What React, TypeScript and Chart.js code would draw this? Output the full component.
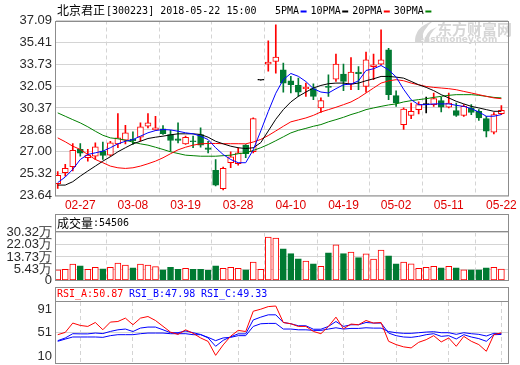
import React, { useEffect, useRef } from "react";
import { Chart, registerables } from "chart.js";
Chart.register(...registerables);

const DATES = ["02-22","02-23","02-26","02-27","02-28","03-01","03-02","03-05","03-06","03-07","03-08","03-09","03-12","03-13","03-14","03-15","03-16","03-19","03-20","03-21","03-22","03-23","03-26","03-27","03-28","03-29","03-30","04-02","04-03","04-04","04-09","04-10","04-11","04-12","04-13","04-16","04-17","04-18","04-19","04-20","04-23","04-24","04-25","04-26","04-27","05-02","05-03","05-04","05-07","05-08","05-09","05-10","05-11","05-14","05-15","05-16","05-17","05-18","05-21","05-22"];

const OPEN = [24.55,25.39,25.85,27.18,26.54,26.66,27.05,26.74,27.61,27.89,27.98,28.12,28.96,28.69,28.76,28.33,28.00,27.61,27.81,28.33,27.31,25.57,24.17,26.16,26.08,27.51,27.00,32.50,33.74,33.94,33.30,32.46,32.10,31.85,31.85,30.37,32.02,32.59,32.97,32.20,33.13,32.02,33.55,33.74,34.83,31.31,29.09,29.80,30.24,30.62,30.62,30.93,30.42,30.16,29.80,30.37,30.11,29.55,28.50,29.93];
const HIGH = [25.47,26.03,27.64,27.64,27.18,27.69,27.74,27.81,29.93,29.04,28.53,29.22,29.93,29.73,29.01,28.65,29.22,28.20,28.20,28.84,27.81,26.41,25.82,27.00,27.31,27.56,29.60,32.50,35.52,36.75,33.82,32.79,32.66,32.28,32.23,31.14,32.92,34.50,33.74,34.24,33.55,34.66,34.50,36.37,34.96,31.69,30.37,30.75,30.83,31.20,31.52,31.18,31.52,30.75,30.62,30.62,30.24,29.73,30.01,30.55];
const LOW = [24.19,25.13,25.52,26.66,26.28,26.41,26.41,26.66,27.31,27.61,27.56,27.81,28.84,28.65,28.33,27.05,27.69,27.56,27.31,27.35,26.91,24.37,24.06,25.77,25.97,26.54,26.92,32.50,33.20,33.05,31.59,31.52,31.26,31.26,31.01,30.03,31.26,32.41,31.69,31.77,31.77,31.59,32.54,33.68,31.01,30.49,28.71,29.55,29.91,29.98,30.49,30.06,30.37,29.72,29.72,29.86,29.42,28.15,28.37,29.86];
const CLOSE = [25.19,25.72,27.12,26.89,26.74,27.38,26.72,27.69,28.07,28.46,27.85,28.92,29.22,28.84,28.40,27.87,27.87,28.12,27.77,27.51,27.18,24.44,25.72,26.62,26.92,26.86,29.55,32.50,33.90,34.27,32.28,32.15,31.59,31.95,31.26,30.93,31.95,33.74,32.41,33.13,33.00,34.07,33.68,34.07,31.39,30.75,30.29,30.11,30.62,30.62,31.08,30.42,30.75,29.80,30.49,30.03,29.60,28.58,29.86,30.19];

// volume in 万手
const VOLUME = [4.96,5.43,8.83,7.68,5.43,6.79,5.64,6.79,9.51,8.15,6.32,8.83,8.15,7.20,4.96,6.79,5.43,6.11,5.43,5.43,4.75,7.68,6.11,6.79,6.11,4.96,10.19,5.43,27.19,26.50,19.24,16.04,12.44,10.87,9.04,7.47,16.50,21.96,16.04,16.99,13.32,15.84,12.23,18.35,14.48,9.04,10.19,9.04,6.11,6.79,7.47,6.32,7.47,6.32,4.96,4.96,4.96,6.32,6.79,5.4506];

const MA5 = [24.63,25.06,25.65,26.41,26.79,26.92,27.05,27.31,27.61,27.81,27.94,28.20,28.46,28.63,28.71,28.68,28.58,28.46,28.38,28.20,27.94,27.31,26.79,26.41,26.16,26.16,27.15,28.60,30.10,31.50,32.55,33.02,32.80,32.40,31.85,31.59,31.52,31.85,32.15,32.20,32.45,33.25,33.38,33.63,33.30,32.75,31.80,31.00,30.62,30.62,30.68,30.68,30.68,30.57,30.49,30.31,30.06,29.73,29.73,29.86];
const MA10 = [24.44,24.44,24.70,25.13,25.52,25.90,26.28,26.62,27.00,27.31,27.61,27.81,28.02,28.12,28.20,28.30,28.38,28.38,28.38,28.33,28.12,27.81,27.61,27.43,27.31,27.25,27.31,27.70,28.60,29.50,30.24,30.83,31.26,31.59,31.90,32.10,32.23,32.28,32.28,32.20,32.28,32.46,32.61,32.79,32.79,32.74,32.66,32.41,32.15,31.95,31.70,31.39,31.14,30.88,30.68,30.49,30.37,30.24,30.11,30.11];
const MA20 = [28.07,27.77,27.43,27.18,26.79,26.41,26.16,25.90,25.77,25.72,25.77,25.90,26.08,26.28,26.54,26.85,27.15,27.35,27.51,27.61,27.64,27.64,27.62,27.62,27.62,27.61,27.75,27.95,28.25,28.60,28.96,29.30,29.45,29.60,29.80,30.06,30.24,30.42,30.62,30.83,31.14,31.52,31.90,32.28,32.45,32.54,32.46,32.28,32.15,32.02,31.95,31.90,31.85,31.77,31.64,31.52,31.39,31.26,31.14,31.08];
const MA30 = [29.99,29.73,29.47,29.22,28.92,28.58,28.27,28.07,28.00,27.89,27.74,27.61,27.51,27.35,27.18,27.00,26.87,26.74,26.70,26.66,26.66,26.66,26.70,26.74,26.85,26.92,27.10,27.31,27.56,27.85,28.15,28.45,28.65,28.80,28.96,29.09,29.30,29.47,29.65,29.86,30.03,30.24,30.37,30.49,30.60,30.68,30.83,30.93,31.01,31.08,31.18,31.26,31.34,31.39,31.39,31.39,31.34,31.26,31.18,31.14];

const RSI_A = [47.6,51.5,67.6,63.5,61.8,68.6,56.1,69.3,70.3,76.1,64.7,76.1,78.9,72.0,62.0,52.0,48.0,56.0,50.0,42.0,36.0,12.0,30.0,45.0,55.0,53.0,88.0,91.5,96.0,97.0,68.6,66.4,61.8,61.8,53.2,49.3,61.8,77.8,57.8,65.9,64.7,72.0,67.6,68.6,36.2,30.5,26.6,24.8,34.4,39.0,45.9,35.1,41.9,27.6,44.7,36.2,30.5,19.0,47.6,50.87];
const RSI_B = [37.3,41.9,49.3,49.0,49.0,50.4,49.5,53.2,56.0,57.3,53.0,59.0,60.7,60.7,56.0,51.0,51.0,54.0,51.0,48.0,42.0,27.6,37.8,44.0,49.0,49.0,73.0,77.8,81.8,81.8,68.6,66.4,63.0,63.0,57.0,57.0,61.8,70.3,61.8,64.7,64.7,68.6,67.6,67.6,50.4,45.9,43.6,43.0,44.7,47.6,49.3,44.7,45.9,40.2,47.6,43.6,40.8,36.2,47.6,47.98];
const RSI_C = [36.2,40.0,43.6,43.6,43.6,43.6,43.0,45.9,47.6,47.6,47.6,49.3,50.4,50.4,50.4,49.3,49.3,49.3,47.6,47.6,43.0,37.3,42.0,43.0,45.9,45.9,61.8,66.4,67.0,67.0,57.3,57.3,56.0,56.0,55.0,55.0,57.3,59.5,57.3,58.4,58.4,59.5,58.9,58.9,53.0,51.0,49.9,49.9,51.0,52.1,52.7,51.0,51.0,48.2,51.0,49.3,48.2,45.3,49.9,49.33];

const PRICE_TICKS = [23.64, 25.32, 27.0, 28.68, 30.37, 32.05, 33.73, 35.41, 37.09];
const VOL_TICKS = [5.43, 13.73, 22.03, 30.32];
const VOL_MIN = -1.88;
const RSI_TICKS = [10, 51, 91];
const DATE_TICK_IDX = [3, 10, 17, 24, 31, 38, 45, 52, 59];

const UP = "#ff0000";
const DOWN = "#007a32";
const FLAT = "#000000";
const GRID = "#d4d4d4";
const FRAME = "#8c8c8c";
const TICK_FONT = { family: "'Liberation Sans Narrow', 'Liberation Sans', sans-serif", size: 13 };
const MONO = "'DejaVu Sans Mono', monospace";
const CJK = "'Noto Sans CJK SC', sans-serif";

const X_MIN = -0.23;
const X_MAX = 59.88;
const W = 520;
const H = 365;

const idx = (arr: number[]) => arr.map((v, i) => ({ x: i, y: v }));
const candleColor = (i: number) => (CLOSE[i] > OPEN[i] ? UP : CLOSE[i] < OPEN[i] ? DOWN : FLAT);

const zeroPad = (s: any) => {
  s.paddingTop = 0;
  s.paddingBottom = 0;
  s.paddingLeft = 0;
  s.paddingRight = 0;
};

function xScale(showLabels: boolean, height: number) {
  return {
    type: "linear",
    min: X_MIN,
    max: X_MAX,
    offset: false,
    afterBuildTicks: (s: any) => {
      s.ticks = DATE_TICK_IDX.map((v) => ({ value: v }));
    },
    afterFit: (s: any) => {
      s.height = height;
      zeroPad(s);
    },
    ticks: {
      display: showLabels,
      autoSkip: false,
      maxRotation: 0,
      padding: 3,
      color: "#e00000",
      font: { family: "'Liberation Sans', sans-serif", size: 12 },
      callback: (v: any) => DATES[v] ?? "",
    },
    grid: { color: GRID, drawTicks: false, lineWidth: 1 },
    border: { display: false, dash: [4, 3] },
  };
}

function yBase(min: number, max: number, ticks: number[], fmt: (v: number) => string, gridFor: (v: number) => boolean) {
  return {
    type: "linear",
    min,
    max,
    afterBuildTicks: (s: any) => {
      s.ticks = ticks.map((v) => ({ value: v }));
    },
    afterFit: (s: any) => {
      s.width = 56;
      zeroPad(s);
    },
    ticks: {
      autoSkip: false,
      padding: 4,
      color: "#2a2a2a",
      font: TICK_FONT,
      callback: (v: any) => fmt(Number(v)),
    },
    grid: {
      drawTicks: false,
      lineWidth: 1,
      color: (c: any) => (c.tick && gridFor(c.tick.value) ? GRID : "rgba(0,0,0,0)"),
    },
    border: { display: false },
  };
}

function drawMixed(ctx: CanvasRenderingContext2D, x: number, y: number, parts: { t: string; font: string; color: string }[]) {
  let cx = x;
  for (const p of parts) {
    ctx.font = p.font;
    ctx.fillStyle = p.color;
    ctx.fillText(p.t, cx, y);
    cx += ctx.measureText(p.t).width;
  }
  return cx;
}

export default function App() {
  const mainRef = useRef<HTMLCanvasElement>(null);
  const volRef = useRef<HTMLCanvasElement>(null);
  const rsiRef = useRef<HTMLCanvasElement>(null);

  useEffect(() => {
    document.body.style.margin = "0";
    const charts: Chart[] = [];

    const mainPlugin = {
      id: "mainDeco",
      beforeDatasetsDraw(chart: any) {
        const ctx = chart.ctx;
        ctx.save();
        ctx.fillStyle = "#d6d6d6";
        ctx.beginPath();
        ctx.moveTo(415, 43);
        ctx.quadraticCurveTo(414, 27, 433, 21);
        ctx.quadraticCurveTo(422, 29, 421, 43);
        ctx.closePath();
        ctx.fill();
        ctx.beginPath();
        ctx.moveTo(424, 43);
        ctx.quadraticCurveTo(425, 31, 437, 27);
        ctx.quadraticCurveTo(429, 33, 428, 43);
        ctx.closePath();
        ctx.fill();
        ctx.textBaseline = "middle";
        ctx.font = `bold 15px ${CJK}`;
        ctx.fillText("东方财富网", 437, 29);
        ctx.font = "bold 9px 'DejaVu Sans', sans-serif";
        ctx.fillText("eastmoney.com", 418, 40);
        ctx.restore();
      },
      afterDraw(chart: any) {
        const ctx = chart.ctx;
        const a = chart.chartArea;
        ctx.save();
        ctx.strokeStyle = FRAME;
        ctx.lineWidth = 1;
        ctx.strokeRect(Math.round(a.left) - 0.5, Math.round(a.top) + 0.5, Math.round(a.right - a.left) + 1, Math.round(a.bottom - a.top) - 0.5);
        ctx.textBaseline = "middle";
        const x1 = drawMixed(ctx, 57, 10.5, [{ t: "北京君正", font: `12px ${CJK}`, color: "#000" }]);
        drawMixed(ctx, x1 + 1, 11, [{ t: "[300223] 2018-05-22 15:00", font: `10px ${MONO}`, color: "#000" }]);
        const legend = [
          { t: "5PMA", c: "#0000ff" },
          { t: "10PMA", c: "#000000" },
          { t: "20PMA", c: "#ff0000" },
          { t: "30PMA", c: "#008000" },
        ];
        let lx = 275;
        for (const l of legend) {
          ctx.font = `10px ${MONO}`;
          ctx.fillStyle = "#000";
          ctx.fillText(l.t, lx, 11);
          lx += ctx.measureText(l.t).width + 1.5;
          ctx.fillStyle = l.c;
          ctx.fillRect(lx, 10.5, 6, 2);
          lx += 10;
        }
        ctx.restore();
      },
    };

    charts.push(
      new Chart(mainRef.current!, {
        type: "bar",
        data: {
          datasets: [
            { type: "line", data: idx(MA5), borderColor: "#0000ff", borderWidth: 1, pointRadius: 0, order: 0 },
            { type: "line", data: idx(MA10), borderColor: "#000000", borderWidth: 1, pointRadius: 0, order: 0 },
            { type: "line", data: idx(MA20), borderColor: "#ff0000", borderWidth: 1, pointRadius: 0, order: 0 },
            { type: "line", data: idx(MA30), borderColor: "#008000", borderWidth: 1, pointRadius: 0, order: 0 },
            {
              type: "bar",
              data: OPEN.map((o, i) => ({ x: i, y: [o, CLOSE[i]] })),
              backgroundColor: OPEN.map((_, i) => (CLOSE[i] > OPEN[i] ? "#ffffff" : candleColor(i))),
              borderColor: OPEN.map((_, i) => candleColor(i)),
              borderWidth: 1,
              borderSkipped: false,
              barThickness: 6,
              minBarLength: 1,
              grouped: false,
              order: 1,
            },
            {
              type: "bar",
              data: LOW.map((l, i) => ({ x: i, y: [l, HIGH[i]] })),
              backgroundColor: OPEN.map((_, i) => candleColor(i)),
              borderWidth: 0,
              barThickness: 1,
              grouped: false,
              order: 2,
            },
          ] as any,
        },
        options: {
          responsive: false,
          animation: false,
          events: [],
          layout: { autoPadding: false, padding: { left: 0, right: 12, top: 20.5, bottom: H - 195.5 - 18 } },
          plugins: { legend: { display: false }, tooltip: { enabled: false } },
          scales: {
            x: xScale(true, 18) as any,
            y: yBase(23.64, 37.09, PRICE_TICKS, (v) => v.toFixed(2), () => true) as any,
          },
        },
        plugins: [mainPlugin],
      })
    );

    const volPlugin = {
      id: "volDeco",
      afterDraw(chart: any) {
        const ctx = chart.ctx;
        const a = chart.chartArea;
        ctx.save();
        ctx.strokeStyle = FRAME;
        ctx.lineWidth = 1;
        const L = Math.round(a.left) - 0.5;
        const R = Math.round(a.right) + 0.5;
        ctx.strokeRect(L, 214.5, R - L, 280.5 - 214.5);
        ctx.beginPath();
        ctx.moveTo(L, 231.5);
        ctx.lineTo(R, 231.5);
        ctx.stroke();
        ctx.textBaseline = "middle";
        const x1 = drawMixed(ctx, 57, 223, [{ t: "成交量", font: `12px ${CJK}`, color: "#000" }]);
        drawMixed(ctx, x1, 223.5, [{ t: ":" + Math.round(VOLUME[VOLUME.length - 1] * 10000), font: `10px ${MONO}`, color: "#000" }]);
        ctx.restore();
      },
    };

    charts.push(
      new Chart(volRef.current!, {
        type: "bar",
        data: {
          datasets: [
            {
              type: "bar",
              data: VOLUME.map((v, i) => ({ x: i, y: [VOL_MIN, v] })),
              backgroundColor: VOLUME.map((_, i) => (CLOSE[i] >= OPEN[i] ? "#ffffff" : DOWN)),
              borderColor: VOLUME.map((_, i) => (CLOSE[i] >= OPEN[i] ? UP : DOWN)),
              borderWidth: 1,
              borderSkipped: false,
              barThickness: 6,
              grouped: false,
            },
          ] as any,
        },
        options: {
          responsive: false,
          animation: false,
          events: [],
          layout: { autoPadding: false, padding: { left: 0, right: 12, top: 232.5, bottom: H - 280 } },
          plugins: { legend: { display: false }, tooltip: { enabled: false } },
          scales: {
            x: xScale(false, 0) as any,
            y: yBase(
              VOL_MIN,
              30.32,
              [VOL_MIN, ...VOL_TICKS],
              (v) => (Math.abs(v - VOL_MIN) < 1e-6 ? "0" : v.toFixed(2) + "万"),
              (v) => Math.abs(v - VOL_MIN) > 1e-6
            ) as any,
          },
        },
        plugins: [volPlugin],
      })
    );

    const rsiPlugin = {
      id: "rsiDeco",
      afterDraw(chart: any) {
        const ctx = chart.ctx;
        const a = chart.chartArea;
        ctx.save();
        ctx.strokeStyle = FRAME;
        ctx.lineWidth = 1;
        const L = Math.round(a.left) - 0.5;
        const R = Math.round(a.right) + 0.5;
        ctx.strokeRect(L, 287.5, R - L, 363.5 - 287.5);
        ctx.beginPath();
        ctx.moveTo(L, 301.5);
        ctx.lineTo(R, 301.5);
        ctx.stroke();
        ctx.textBaseline = "middle";
        const f = `10px ${MONO}`;
        const n = RSI_A.length - 1;
        drawMixed(ctx, 57, 294.5, [{ t: "RSI_A:" + RSI_A[n].toFixed(2), font: f, color: "#ff0000" }]);
        drawMixed(ctx, 129, 294.5, [{ t: "RSI_B:" + RSI_B[n].toFixed(2), font: f, color: "#0000ff" }]);
        drawMixed(ctx, 201, 294.5, [{ t: "RSI_C:" + RSI_C[n].toFixed(2), font: f, color: "#0000ff" }]);
        ctx.restore();
      },
    };

    charts.push(
      new Chart(rsiRef.current!, {
        type: "line",
        data: {
          datasets: [
            { data: idx(RSI_A), borderColor: "#ff0000", borderWidth: 1, pointRadius: 0 },
            { data: idx(RSI_B), borderColor: "#0000ff", borderWidth: 1, pointRadius: 0 },
            { data: idx(RSI_C), borderColor: "#0000ff", borderWidth: 1, pointRadius: 0 },
          ] as any,
        },
        options: {
          responsive: false,
          animation: false,
          events: [],
          layout: { autoPadding: false, padding: { left: 0, right: 12, top: 302, bottom: 2 } },
          plugins: { legend: { display: false }, tooltip: { enabled: false } },
          scales: {
            x: xScale(false, 0) as any,
            y: yBase(-1.2, 103.9, RSI_TICKS, (v) => String(v), (v) => v === 51) as any,
          },
        },
        plugins: [rsiPlugin],
      })
    );

    return () => charts.forEach((c) => c.destroy());
  }, []);

  const cs: React.CSSProperties = { position: "absolute", left: 0, top: 0 };
  return (
    <div style={{ position: "relative", width: W, height: H, background: "#fff" }}>
      <canvas ref={mainRef} width={W} height={H} style={cs} />
      <canvas ref={volRef} width={W} height={H} style={cs} />
      <canvas ref={rsiRef} width={W} height={H} style={cs} />
    </div>
  );
}
